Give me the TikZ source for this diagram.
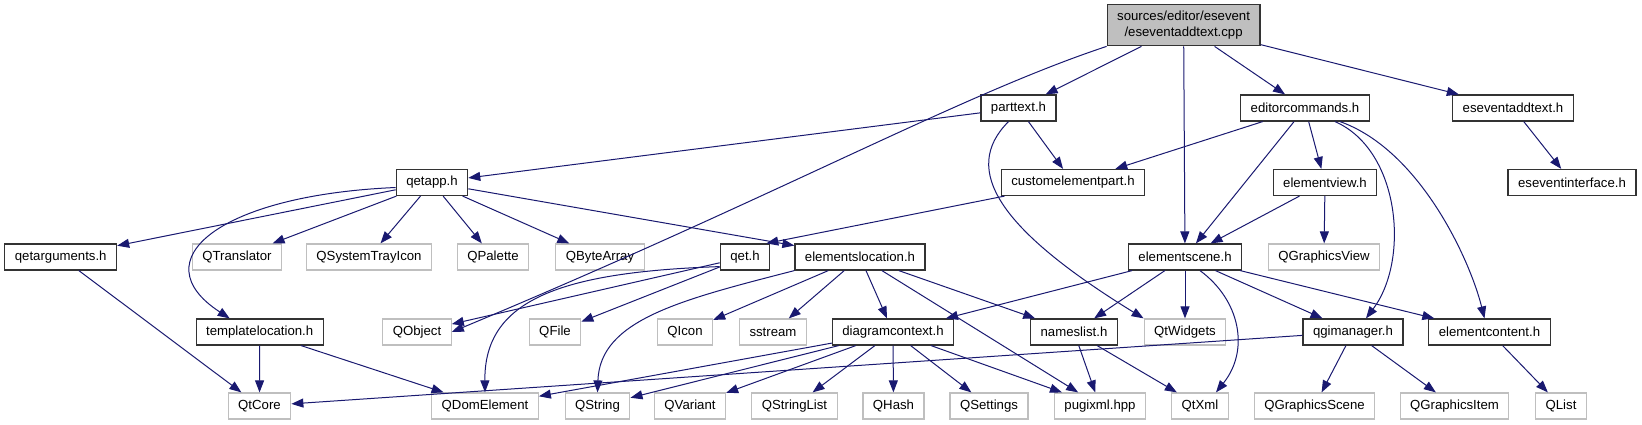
\documentclass[tikz,border=0pt]{standalone}
\usepackage{fontspec}
\setmainfont{Liberation Sans}
\usepackage{tikz}
\usetikzlibrary{arrows.meta}
\definecolor{edgeblue}{RGB}{25, 25, 112}
\definecolor{boxgray}{RGB}{191, 191, 191}

\begin{document}
\begin{tikzpicture}[x=1pt,y=-1pt,
  font=\fontsize{13.2}{16}\selectfont,
  hdr/.style={draw=black!80, line width=1.2pt, fill=white, inner xsep=10pt, inner ysep=0pt, minimum height=26pt},
  ext/.style={hdr, draw=boxgray},
  srcfile/.style={hdr, fill=boxgray, align=center, minimum height=41pt},
  dep/.style={edgeblue, line width=1pt, -{Triangle[length=12pt,width=9pt]}}]
\useasboundingbox (0,0) rectangle (1642,425);
% Source file
\node[srcfile] (main) at (1183.6,25.3) {sources/editor/esevent\\/eseventaddtext.cpp};
% Row 2
\node[hdr] (parttext) at (1018.5,108) {parttext.h};
\node[hdr] (editorcmds) at (1305,108) {editorcommands.h};
\node[hdr] (esaddtext) at (1513,108) {eseventaddtext.h};
% Row 3
\node[hdr] (qetapp) at (432,182.5) {qetapp.h};
\node[hdr] (custpart) at (1073,182.5) {customelementpart.h};
\node[hdr] (elemview) at (1325,182.5) {elementview.h};
\node[hdr] (esiface) at (1572,182.5) {eseventinterface.h};
% Row 4
\node[hdr] (qetargs) at (60.7,257) {qetarguments.h};
\node[ext] (qtranslator) at (237,257) {QTranslator};
\node[ext] (qsystray) at (369,257) {QSystemTrayIcon};
\node[ext] (qpalette) at (493,257) {QPalette};
\node[ext] (qbytearray) at (600,257) {QByteArray};
\node[hdr] (qet) at (745,257) {qet.h};
\node[hdr] (elemloc) at (860,257) {elementslocation.h};
\node[hdr] (elemscene) at (1185,257) {elementscene.h};
\node[ext] (qgraphicsview) at (1324,257) {QGraphicsView};
% Row 5
\node[hdr] (templateloc) at (259.7,332) {templatelocation.h};
\node[ext] (qobject) at (417,332) {QObject};
\node[ext] (qfile) at (555,332) {QFile};
\node[ext] (qicon) at (685,332) {QIcon};
\node[ext] (sstream) at (773,332) {sstream};
\node[hdr] (diagctx) at (893,332) {diagramcontext.h};
\node[hdr] (nameslist) at (1074,332) {nameslist.h};
\node[ext] (qtwidgets) at (1185,332) {QtWidgets};
\node[hdr] (qgimanager) at (1353,332) {qgimanager.h};
\node[hdr] (elemcontent) at (1489.5,332) {elementcontent.h};
% Row 6
\node[ext] (qtcore) at (259.5,406) {QtCore};
\node[ext] (qdomelement) at (485,406) {QDomElement};
\node[ext] (qstring) at (597.5,406) {QString};
\node[ext] (qvariant) at (690,406) {QVariant};
\node[ext] (qstringlist) at (794.5,406) {QStringList};
\node[ext] (qhash) at (893.5,406) {QHash};
\node[ext] (qsettings) at (989,406) {QSettings};
\node[ext] (pugixml) at (1100,406) {pugixml.hpp};
\node[ext] (qtxml) at (1200,406) {QtXml};
\node[ext] (qgraphicsscene) at (1314.5,406) {QGraphicsScene};
\node[ext] (qgraphicsitem) at (1454.5,406) {QGraphicsItem};
\node[ext] (qlist) at (1561,406) {QList};
% From the source file
\draw[dep] (main) -- (parttext);
\draw[dep] (main) -- (editorcmds);
\draw[dep] (main) -- (elemscene);
\draw[dep] (main) -- (esaddtext);
\draw[dep] (main.south west) .. controls (960,95) and (780,195) .. (qobject.east);
% parttext.h
\draw[dep] (parttext) -- (qetapp);
\draw[dep] (parttext) -- (custpart);
\draw[dep] ([xshift=-10pt]parttext.south) .. controls (960,170) and (1000,230) .. (qtwidgets.north west);
% editorcommands.h
\draw[dep] (editorcmds) -- (custpart);
\draw[dep] (editorcmds) -- (elemscene);
\draw[dep] (editorcmds) -- (elemview);
\draw[dep] ([xshift=30pt]editorcmds.south) .. controls (1400,150) and (1410,260) .. ([xshift=13pt]qgimanager.north);
\draw[dep] ([xshift=35pt]editorcmds.south) .. controls (1420,150) and (1470,260) .. ([xshift=-5pt]elemcontent.north);
\draw[dep] (esaddtext) -- (esiface);
\draw[dep] (custpart) -- ([xshift=-4pt]qet.north east);
\draw[dep] (elemview) -- (elemscene);
\draw[dep] (elemview) -- (qgraphicsview);
% qetapp.h
\draw[dep] (qetapp) -- (qetargs);
\draw[dep] ([yshift=-5pt]qetapp.west) .. controls (220,195) and (140,260) .. ([xshift=-30pt]templateloc.north);
\draw[dep] (qetapp) -- (qtranslator);
\draw[dep] (qetapp) -- (qsystray);
\draw[dep] (qetapp) -- (qpalette);
\draw[dep] (qetapp) -- (qbytearray);
\draw[dep] (qetapp) -- (elemloc);
\draw[dep] (qetargs) -- (qtcore);
\draw[dep] (templateloc) -- (qtcore);
\draw[dep] (templateloc) -- (qdomelement);
% qet.h
\draw[dep] (qet) -- (qobject);
\draw[dep] (qet) -- (qfile);
\draw[dep] ([yshift=4pt]qet.south west) .. controls (560,272) and (484,300) .. (qdomelement.north);
% elementslocation.h
\draw[dep] (elemloc.south west) .. controls (680,300) and (600,320) .. (qstring.north);
\draw[dep] (elemloc) -- (qicon);
\draw[dep] (elemloc) -- (sstream);
\draw[dep] (elemloc) -- (diagctx);
\draw[dep] (elemloc) -- (nameslist);
\draw[dep] (elemloc) -- (pugixml);
% elementscene.h
\draw[dep] (elemscene) -- (diagctx);
\draw[dep] (elemscene) -- (nameslist);
\draw[dep] (elemscene) -- (qtwidgets);
\draw[dep] ([xshift=15pt]elemscene.south) .. controls (1240,300) and (1250,350) .. ([xshift=16pt]qtxml.north);
\draw[dep] (elemscene) -- (qgimanager);
\draw[dep] (elemscene) -- (elemcontent);
% diagramcontext.h
\draw[dep] (diagctx) -- (qdomelement);
\draw[dep] (diagctx) -- (qstring);
\draw[dep] (diagctx) -- (qvariant);
\draw[dep] (diagctx) -- (qstringlist);
\draw[dep] (diagctx) -- (qhash);
\draw[dep] (diagctx) -- (qsettings);
\draw[dep] (diagctx) -- (pugixml);
% nameslist.h
\draw[dep] (nameslist) -- (pugixml);
\draw[dep] (nameslist) -- (qtxml);
% qgimanager.h and elementcontent.h
\draw[dep] (qgimanager) -- (qtcore);
\draw[dep] (qgimanager) -- (qgraphicsscene);
\draw[dep] (qgimanager) -- (qgraphicsitem);
\draw[dep] (elemcontent) -- (qlist);
\end{tikzpicture}
\end{document}
